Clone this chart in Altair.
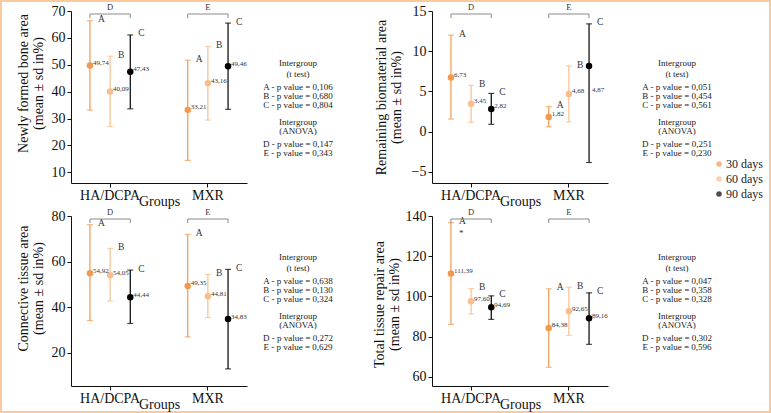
import altair as alt
import pandas as pd

FONT = "Liberation Serif"
groups = ["HA/DCPA", "MXR"]
times = ["30 days", "60 days", "90 days"]
letters = ["A", "B", "C"]
brackets = ["D", "E"]
colors = ["#F2994F", "#F8BE8B", "#000000"]
frame_color = "#F9C9A0"

# Panel 1: newly formed bone area
bone_mean = [49.74, 40.09, 47.43, 33.21, 43.16, 49.46]
bone_lo = [33.1, 27.0, 33.6, 14.4, 29.4, 33.4]
bone_hi = [66.4, 53.2, 61.1, 51.7, 56.8, 65.5]
bone_lbl = ["49,74", "40,09", "47,43", "33,21", "43,16", "49,46"]
bone_p_t = ["0,106", "0,680", "0,804"]
bone_p_a = ["0,147", "0,343"]

# Panel 2: remaining biomaterial area (MXR 90-day dot drawn at ~8.15 in the source)
bio_mean = [6.73, 3.45, 2.82, 1.82, 4.68, 8.15]
bio_lo = [1.55, 1.15, 0.9, 0.6, 1.2, -3.85]
bio_hi = [12.0, 5.75, 4.75, 3.1, 8.15, 13.4]
bio_lbl = ["6,73", "3,45", "2,82", "1,82", "4,68", "4,87"]
bio_p_t = ["0,051", "0,454", "0,561"]
bio_p_a = ["0,251", "0,230"]

# Panel 3: connective tissue area
con_mean = [54.92, 54.05, 44.44, 49.35, 44.81, 34.83]
con_lo = [34.2, 42.7, 32.9, 27.0, 35.5, 13.0]
con_hi = [76.2, 65.8, 56.3, 71.9, 54.4, 56.6]
con_lbl = ["54,92", "54,05", "44,44", "49,35", "44,81", "34,83"]
con_p_t = ["0,638", "0,130", "0,324"]
con_p_a = ["0,272", "0,629"]

# Panel 4: total tissue repair area
tot_mean = [111.39, 97.60, 94.69, 84.38, 92.65, 89.16]
tot_lo = [86.1, 91.3, 88.6, 64.8, 80.6, 76.2]
tot_hi = [136.7, 103.9, 100.3, 103.8, 104.6, 101.8]
tot_lbl = ["111,39", "97,60", "94,69", "84,38", "92,65", "89,16"]
tot_p_t = ["0,047", "0,358", "0,328"]
tot_p_a = ["0,302", "0,596"]


def make_df(mean, lo, hi, lbl):
    rows = []
    k = 0
    for g in groups:
        for t, l in zip(times, letters):
            rows.append({"group": g, "time": t, "letter": l, "mean": mean[k],
                         "lo": lo[k], "hi": hi[k], "lbl": lbl[k],
                         "lblv": float(lbl[k].replace(",", "."))})
            k += 1
    return pd.DataFrame(rows)


legend = alt.Legend(orient="none", legendX=642, legendY=147, title=None,
                    symbolType="circle", symbolSize=30, symbolStrokeWidth=0,
                    labelFont=FONT, labelFontSize=12, labelColor="#222",
                    labelOffset=1, rowPadding=3)


def panel(df, title_lines, domain, ticks, w, h, title_pad, title_y, star=False, frame=False):
    xenc = alt.X("group:N", sort=groups,
                 scale=alt.Scale(domain=groups, paddingInner=0.2, paddingOuter=0),
                 axis=alt.Axis(title="Groups", labelAngle=0, labelFont=FONT, labelFontSize=14,
                               labelColor="#111", titleFont=FONT, titleFontSize=14,
                               titleFontWeight="normal", titleColor="#111", titlePadding=-8,
                               domainColor="#111", tickColor="#111", tickSize=4, labelPadding=1))
    xoff = alt.XOffset("time:N", sort=times,
                       scale=alt.Scale(domain=times, paddingOuter=0.44, paddingInner=0))
    ysc = alt.Scale(domain=domain, nice=False, zero=False)
    yax = alt.Axis(values=ticks, tickCount=len(ticks), title=title_lines, grid=False,
                   labelFont=FONT, labelFontSize=14, labelColor="#111", labelOverlap=False,
                   titleFont=FONT, titleFontSize=14, titleFontWeight="normal", titleColor="#111",
                   titlePadding=title_pad, titleLineHeight=15, titleY=title_y,
                   domainColor="#111", tickColor="#111", tickSize=4, labelPadding=2)

    def Y(field):
        return alt.Y(field, type="quantitative", scale=ysc, axis=yax)

    col = alt.Color("time:N", scale=alt.Scale(domain=times, range=colors), legend=legend)
    base = alt.Chart(df).encode(x=xenc, xOffset=xoff)
    bars = base.mark_rule(strokeWidth=1.2).encode(y=Y("lo"), y2="hi:Q", color=col)
    cap_hi = base.mark_tick(size=6, thickness=1.2).encode(y=Y("hi"), color=col)
    cap_lo = base.mark_tick(size=6, thickness=1.2).encode(y=Y("lo"), color=col)
    pts = base.mark_circle(size=42, opacity=1).encode(y=Y("mean"), color=col)
    vals = base.mark_text(align="left", baseline="middle", dx=3, dy=-2.5, fontSize=7,
                          font=FONT, color="#333").encode(y=Y("lblv"), text="lbl:N")
    lets = base.mark_text(align="left", baseline="middle", dx=8, dy=-1.5, fontSize=9.5,
                          font=FONT, color="#333").encode(y=Y("hi"), text="letter:N")
    layers = [bars, cap_hi, cap_lo, pts, vals, lets]

    br_rows = []
    for g, b in zip(groups, brackets):
        br_rows.append({"group": g, "time": times[0], "b": b})
        br_rows.append({"group": g, "time": times[2], "b": b})
    br = alt.Chart(pd.DataFrame(br_rows)).encode(x=xenc, xOffset=xoff)
    br_line = br.mark_line(color="#8a8a8a", strokeWidth=1).encode(y=alt.value(3), detail="group:N")
    br_end = br.mark_rule(color="#8a8a8a", strokeWidth=1).encode(y=alt.value(3), y2=alt.value(7))
    br_txt = alt.Chart(pd.DataFrame({"group": groups, "b": brackets, "time": [times[1]] * 2})).mark_text(
        baseline="bottom", fontSize=8.5, font=FONT, color="#333").encode(
        x=xenc, xOffset=xoff, y=alt.value(1), text="b:N")
    layers += [br_line, br_end, br_txt]

    if star:
        st = base.transform_filter(
            (alt.datum.group == groups[0]) & (alt.datum.letter == letters[0])
        ).mark_text(align="left", baseline="middle", dx=8, dy=10, fontSize=9, font=FONT,
                    color="#333").encode(y=Y("hi"), text=alt.value("*"))
        layers.append(st)

    if frame:
        fr = alt.Chart(pd.DataFrame({"a": [0]})).mark_rect(
            fillOpacity=0, stroke=frame_color, strokeWidth=2).encode(
            x=alt.value(-70), y=alt.value(-10), x2=alt.value(699), y2=alt.value(401))
        layers.append(fr)

    return alt.layer(*layers).properties(width=w, height=h)


def notes(p_t, p_a, w, h, xc, y0):
    lines = [("Intergroup", 0), ("(t test)", 11),
             ("A - p value = " + p_t[0], 24), ("B - p value = " + p_t[1], 33),
             ("C - p value = " + p_t[2], 42),
             ("Intergroup", 59), ("(ANOVA)", 68),
             ("D - p value = " + p_a[0], 81), ("E - p value = " + p_a[1], 90)]
    layers = []
    for s, dy in lines:
        layers.append(alt.Chart(pd.DataFrame({"s": [s]})).mark_text(
            align="center", baseline="middle", fontSize=9, font=FONT, color="#222").encode(
            x=alt.value(xc), y=alt.value(y0 + dy), text="s:N"))
    return alt.layer(*layers).properties(width=w, height=h)


p1 = panel(make_df(bone_mean, bone_lo, bone_hi, bone_lbl),
           ["Newly formed bone area", "(mean ± sd in%)"], [6, 70], [10, 20, 30, 40, 50, 60, 70],
           176, 172, 6, 72, frame=True)
p2 = panel(make_df(bio_mean, bio_lo, bio_hi, bio_lbl),
           ["Remaining biomaterial area", "(mean ± sd in%)"], [-6.4, 15], [-5, 0, 5, 10, 15],
           176, 172, 8, 86)
p3 = panel(make_df(con_mean, con_lo, con_hi, con_lbl),
           ["Connective tissue area", "(mean ± sd in%)"], [5.5, 80], [20, 40, 60, 80],
           176, 170, 6, 72)
p4 = panel(make_df(tot_mean, tot_lo, tot_hi, tot_lbl),
           ["Total tissue repair area", "(mean ± sd in%)"], [55.5, 140], [60, 80, 100, 120, 140],
           176, 170, 4, 88, star=True)

t1 = notes(bone_p_t, bone_p_a, 185, 172, 51, 52)
t2 = notes(bio_p_t, bio_p_a, 150, 172, 69, 52)
t3 = notes(con_p_t, con_p_a, 185, 170, 51, 41)
t4 = notes(tot_p_t, tot_p_a, 150, 170, 69, 41)

chart = alt.concat(p1, t1, p2, t2, p3, t3, p4, t4, columns=4, bounds="flush", align="each",
                   spacing={"row": 33, "column": 0}, padding=0).resolve_scale(
    x="independent", y="independent", xOffset="independent").configure_view(stroke=None)

chart.save("out.html", embed_options={"renderer": "svg", "actions": False})
